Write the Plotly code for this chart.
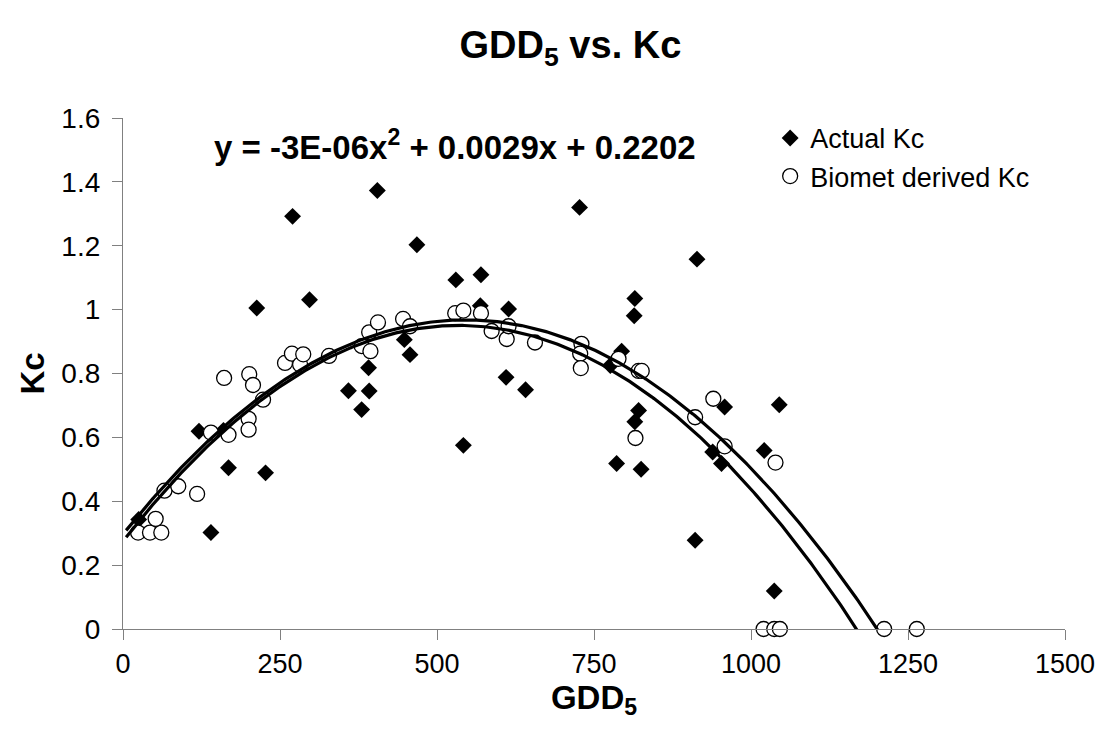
import numpy as np
import plotly.graph_objects as go

# Actual Kc (filled diamonds)
actual_gdd = [25, 121, 140, 160, 168, 213, 227, 270, 297, 359, 380, 391, 392, 405,
              448, 457, 468, 530, 542, 569, 570, 610, 614, 641, 727, 776, 786, 794,
              814, 815, 815, 821, 825, 911, 914, 939, 953, 958, 1021, 1037, 1045]
actual_kc = [0.343, 0.619, 0.302, 0.622, 0.505, 1.005, 0.489, 1.292, 1.031, 0.746,
             0.687, 0.818, 0.745, 1.373, 0.906, 0.859, 1.203, 1.093, 0.575, 1.012,
             1.109, 0.788, 1.002, 0.749, 1.320, 0.825, 0.518, 0.870, 0.981, 1.035,
             0.649, 0.684, 0.500, 0.278, 1.158, 0.554, 0.518, 0.695, 0.559, 0.119,
             0.702]

# Biomet derived Kc (open circles)
biomet_gdd = [24, 43, 61, 52, 66, 88, 118, 140, 161, 168, 200, 200, 201, 207, 223,
              258, 269, 282, 287, 328, 380, 392, 394, 406, 446, 457, 529, 542, 570,
              587, 611, 614, 656, 730, 728, 729, 789, 821, 826, 816, 911, 940, 958,
              1039, 1020, 1037, 1046, 1212, 1264]
biomet_kc = [0.302, 0.302, 0.302, 0.345, 0.433, 0.447, 0.423, 0.615, 0.786, 0.608,
             0.658, 0.624, 0.798, 0.764, 0.718, 0.833, 0.862, 0.828, 0.860, 0.855,
             0.886, 0.929, 0.870, 0.960, 0.971, 0.948, 0.989, 0.997, 0.989, 0.933,
             0.908, 0.948, 0.897, 0.893, 0.862, 0.817, 0.846, 0.808, 0.808, 0.598,
             0.663, 0.721, 0.572, 0.521, 0.0, 0.0, 0.0, 0.0, 0.0]

x_ticks = [0, 250, 500, 750, 1000, 1250, 1500]
y_ticks = [0, 0.2, 0.4, 0.6, 0.8, 1.0, 1.2, 1.4, 1.6]
y_tick_text = ["0", "0.2", "0.4", "0.6", "0.8", "1", "1.2", "1.4", "1.6"]

equation_text = "<b>y = -3E-06x<sup>2</sup> + 0.0029x + 0.2202</b>"

# x-span over which the 2nd-order trendlines are drawn (clipped at Kc = 0)
TREND_X_SPAN = (5, 1300)

FONT = "Arial, 'Liberation Sans', sans-serif"


def trend(xs, ys):
    c = np.polyfit(xs, ys, 2)
    xx = np.linspace(TREND_X_SPAN[0], TREND_X_SPAN[1], 400)
    return xx, np.polyval(c, xx)


fig = go.Figure()
fig.add_trace(go.Scatter(
    x=actual_gdd, y=actual_kc, mode="markers", name="Actual Kc",
    marker=dict(symbol="diamond", size=13, color="black",
                line=dict(width=0))))
fig.add_trace(go.Scatter(
    x=biomet_gdd, y=biomet_kc, mode="markers", name="Biomet derived Kc",
    marker=dict(symbol="circle", size=15, color="white",
                line=dict(width=1.3, color="black")), cliponaxis=False))

for xs, ys in [(actual_gdd, actual_kc), (biomet_gdd, biomet_kc)]:
    tx, ty = trend(xs, ys)
    fig.add_trace(go.Scatter(x=tx, y=ty, mode="lines", showlegend=False,
                             line=dict(color="black", width=3.2),
                             hoverinfo="skip"))

fig.update_layout(
    width=1112, height=740,
    margin=dict(l=123, r=47, t=118, b=111),
    paper_bgcolor="white", plot_bgcolor="white",
    font=dict(family=FONT, color="black", size=27),
    title=dict(text="<b>GDD<sub>5</sub> vs. Kc</b>", x=0.513, xanchor="center",
               y=0.94, yanchor="middle", font=dict(size=38, family=FONT)),
    showlegend=True,
    legend=dict(x=0.687, xanchor="left", y=1.008, yanchor="top",
                font=dict(size=27, family=FONT), bgcolor="rgba(0,0,0,0)",
                itemwidth=30),
    xaxis=dict(range=[0, 1500], tickvals=x_ticks, ticks="outside", ticklen=10,
               tickcolor="#808080", showline=True, linecolor="#808080",
               linewidth=1.3, showgrid=False, zeroline=False,
               tickfont=dict(size=27),
               title=dict(text="<b>GDD<sub>5</sub></b>", font=dict(size=33),
                          standoff=0)),
    yaxis=dict(range=[0, 1.6], tickvals=y_ticks, ticktext=y_tick_text,
               ticks="outside", ticklen=10, ticklabelstandoff=6,
               tickcolor="#808080", showline=True, linecolor="#808080",
               linewidth=1.3, showgrid=False, zeroline=False,
               tickfont=dict(size=28),
               title=dict(text="<b>Kc</b>", font=dict(size=33), standoff=6)),
    annotations=[dict(text=equation_text, xref="paper", yref="paper",
                      x=0.3524, y=0.947, xanchor="center", yanchor="middle",
                      showarrow=False, font=dict(size=33, family=FONT))],
)

fig.write_html("out.html")
